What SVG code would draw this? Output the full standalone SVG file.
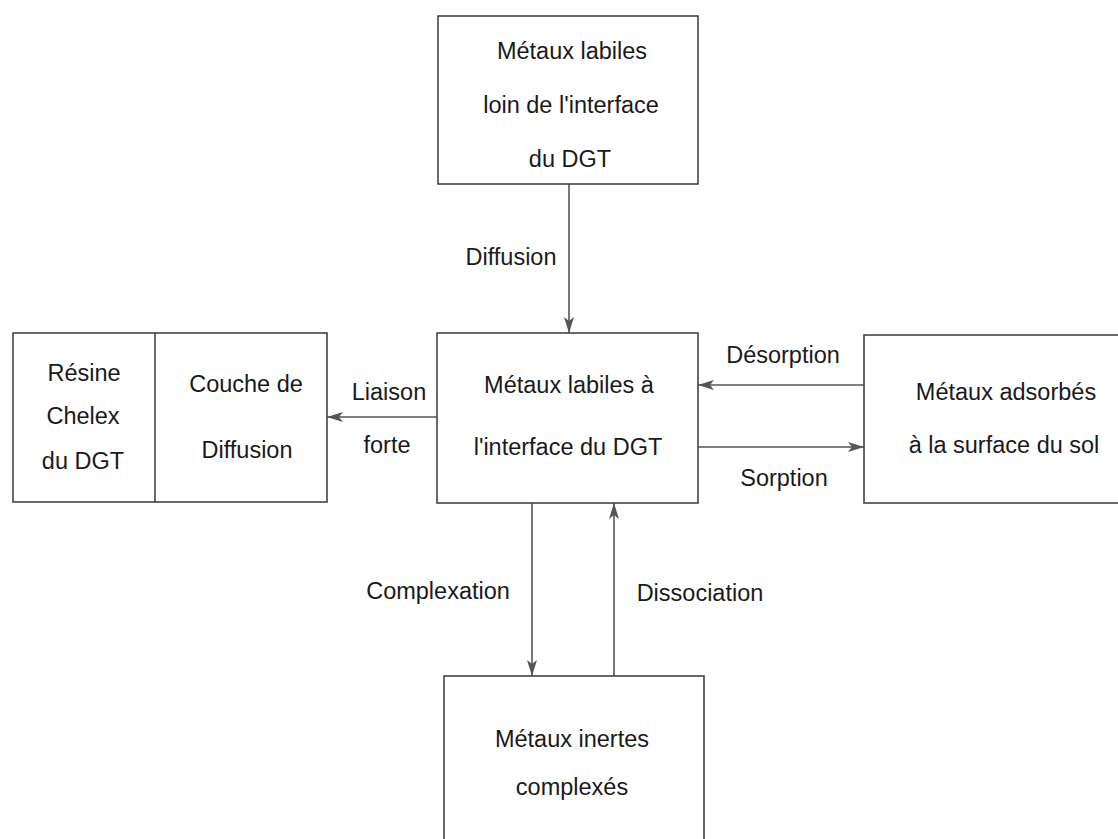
<svg xmlns="http://www.w3.org/2000/svg" width="1118" height="839" viewBox="0 0 1118 839">
<defs>
<style>
.box{fill:#fff;stroke:#444;stroke-width:1.6}
.t{font-family:"Liberation Sans",Arial,sans-serif;font-size:23.5px;fill:#1a1a1a;text-anchor:middle}
.c{stroke:#555;stroke-width:1.6;fill:none}
</style>
<marker id="ah" viewBox="0 0 16 10" refX="16" refY="5" markerWidth="16" markerHeight="10" markerUnits="userSpaceOnUse" orient="auto">
<path d="M0,0 L16,5 L0,10 L4,5 Z" fill="#555"/>
</marker>
</defs>
<rect width="1118" height="839" fill="#fff"/>
<g id="connectors">
<line class="c" x1="569" y1="184" x2="569" y2="333" marker-end="url(#ah)"/>
<line class="c" x1="437" y1="417" x2="327" y2="417" marker-end="url(#ah)"/>
<line class="c" x1="326" y1="417" x2="247" y2="417"/>
<path d="M222,417 L239,412 L235,417 L239,422 Z" fill="#333"/>
<line class="c" x1="215" y1="417" x2="157" y2="417" marker-end="url(#ah)"/>
<line class="c" x1="864" y1="385" x2="698" y2="385" marker-end="url(#ah)"/>
<line class="c" x1="698" y1="447" x2="864" y2="447" marker-end="url(#ah)"/>
<line class="c" x1="532" y1="503" x2="532" y2="676" marker-end="url(#ah)"/>
<line class="c" x1="614" y1="676" x2="614" y2="503" marker-end="url(#ah)"/>
<text class="t" x="511" y="265">Diffusion</text>
<text class="t" x="389" y="400">Liaison</text>
<text class="t" x="387" y="453">forte</text>
<text class="t" x="783" y="363">Désorption</text>
<text class="t" x="784" y="486">Sorption</text>
<text class="t" x="438" y="599">Complexation</text>
<text class="t" x="700" y="601">Dissociation</text>
</g>
<g id="top">
<rect class="box" x="438" y="16" width="260" height="168"/>
<text class="t" x="572" y="59">Métaux labiles</text>
<text class="t" x="571" y="113">loin de l'interface</text>
<text class="t" x="570" y="167">du DGT</text>
</g>
<g id="center">
<rect class="box" x="437" y="333" width="261" height="170"/>
<text class="t" x="569" y="393">Métaux labiles à</text>
<text class="t" x="568" y="455">l'interface du DGT</text>
</g>
<g id="left">
<rect class="box" x="13" y="333" width="314" height="169"/>
<line class="box" x1="155" y1="333" x2="155" y2="502"/>
<text class="t" x="84" y="381">Résine</text>
<text class="t" x="83" y="424">Chelex</text>
<text class="t" x="83" y="469">du DGT</text>
<text class="t" x="246" y="392">Couche de</text>
<text class="t" x="247" y="458">Diffusion</text>
</g>
<g id="right">
<rect class="box" x="864" y="335" width="270" height="168"/>
<text class="t" x="1006" y="400">Métaux adsorbés</text>
<text class="t" x="1004" y="453">à la surface du sol</text>
</g>
<g id="bottom">
<rect class="box" x="444" y="676" width="260" height="200"/>
<text class="t" x="572" y="747">Métaux inertes</text>
<text class="t" x="572" y="795">complexés</text>
</g>
</svg>
